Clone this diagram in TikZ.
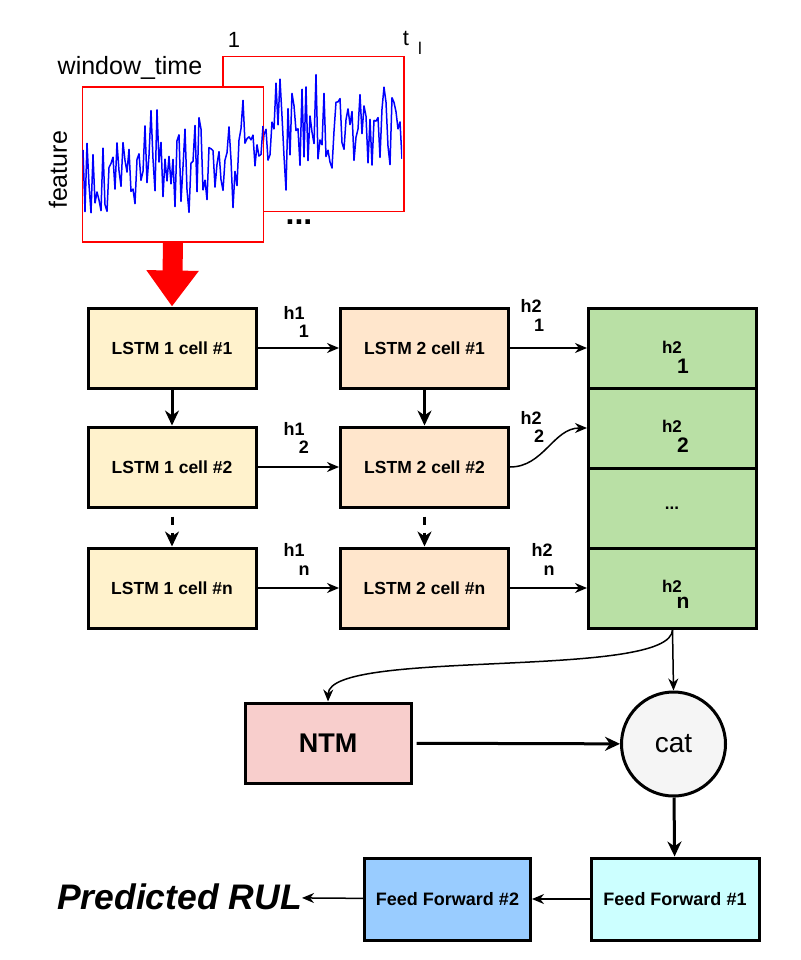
\documentclass[tikz,border=0pt]{standalone}
\usepackage{fontspec}
\setmainfont{Liberation Sans}
\usetikzlibrary{arrows.meta}

\definecolor{lstmA}{HTML}{FFF2CC}
\definecolor{lstmB}{HTML}{FFE6CC}
\definecolor{hidden}{HTML}{B9E0A5}
\definecolor{ntmred}{HTML}{F8CECC}
\definecolor{catgray}{HTML}{F5F5F5}
\definecolor{ffone}{HTML}{CCFFFF}
\definecolor{fftwo}{HTML}{99CCFF}

\begin{document}
\begin{tikzpicture}[x=1pt, y=-1pt,
    >={Stealth[length=12pt, width=10pt]},
    box/.style={draw, line width=3pt, inner sep=0pt, minimum width=168pt, minimum height=80pt},
    cell/.style={box, font=\fontsize{17.5}{20}\selectfont\bfseries},
    win/.style={draw=red, line width=1.5pt, fill=white, minimum width=181pt, minimum height=155pt, inner sep=0pt},
    sig/.style={blue, line width=1.5pt, line join=round},
    lbl/.style={inner sep=0pt, font=\fontsize{18}{20}\selectfont\bfseries},
    glbl/.style={inner sep=0pt, font=\fontsize{17}{20}\selectfont\bfseries},
    gsub/.style={inner sep=0pt, font=\fontsize{21}{22}\selectfont\bfseries},
    txt/.style={inner sep=0pt, font=\fontsize{25}{28}\selectfont},
    thin/.style={->, line width=1.5pt},
    thick/.style={-{Stealth[length=15pt, width=14pt]}, line width=3pt},
    bigarrow/.style={-{Triangle[length=36pt, width=50pt]}, red, line width=20pt}
]
\useasboundingbox (0,0) rectangle (800,960);

\pgfmathsetseed{11}
\node[win] (w2) at (313.5,134) {};
\begin{scope}
    \clip (225,57) rectangle (402,211);
    \draw[sig] (226,130) \foreach \i in {1,...,88} { -- ({226+2*\i},{128+35*rand+50*rand^3}) };
\end{scope}
\node[win] (w1) at (173,164.5) {};
\begin{scope}
    \clip (82,88) rectangle (264,241);
    \draw[sig] (83,150) \foreach \i in {1,...,90} { -- ({83+2*\i},{185-0.35*\i+30*rand+50*rand^3}) };
\end{scope}

\node[txt, anchor=base] (wt) at (130,75) {window\_time};
\node[txt, rotate=90] (ft) at (58,170) {feature};
\node[inner sep=0pt, font=\fontsize{22}{24}\selectfont] (t1) at (234,40) {1};
\node[inner sep=0pt, font=\fontsize{22}{24}\selectfont] (tl) at (406,38) {t};
\node[inner sep=0pt, font=\fontsize{17}{18}\selectfont] (tls) at (420,48) {l};
\node[inner sep=0pt, font=\fontsize{32}{32}\selectfont\bfseries] (dots) at (299,222) {...};

\node[cell, fill=lstmA] (a1) at (172,348) {LSTM 1 cell \#1};
\node[cell, fill=lstmA] (a2) at (172,467) {LSTM 1 cell \#2};
\node[cell, fill=lstmA] (an) at (172,588) {LSTM 1 cell \#n};
\node[cell, fill=lstmB] (b1) at (424.5,348) {LSTM 2 cell \#1};
\node[cell, fill=lstmB] (b2) at (424.5,467) {LSTM 2 cell \#2};
\node[cell, fill=lstmB] (bn) at (424.5,588) {LSTM 2 cell \#n};

\node[box, fill=hidden] (g1) at (672.5,348) {};
\node[box, fill=hidden] (g2) at (672.5,428) {};
\node[box, fill=hidden] (g3) at (672.5,508) {};
\node[box, fill=hidden] (g4) at (672.5,588) {};
\node[glbl] (g1h) at (672,347) {h2};
\node[gsub] (g1s) at (683,366) {1};
\node[glbl] (g2h) at (672,426) {h2};
\node[gsub] (g2s) at (683,445) {2};
\node[glbl] (g3h) at (672,508) {...};
\node[glbl] (g4h) at (672,586) {h2};
\node[gsub] (g4s) at (683,603) {n};

\node[lbl] (h11) at (294,313) {h1};
\node[lbl] (h11s) at (304,331) {1};
\node[lbl] (h12) at (294,429) {h1};
\node[lbl] (h12s) at (304,447) {2};
\node[lbl] (h1n) at (294,550) {h1};
\node[lbl] (h1ns) at (304,571) {n};
\node[lbl] (h21) at (531,306) {h2};
\node[lbl] (h21s) at (539,325) {1};
\node[lbl] (h22) at (531,418) {h2};
\node[lbl] (h22s) at (539,436) {2};
\node[lbl] (h2n) at (542,550) {h2};
\node[lbl] (h2ns) at (549,571) {n};

\node[box, fill=ntmred, minimum width=166pt, font=\fontsize{27}{30}\selectfont\bfseries] (ntm) at (328,743) {NTM};
\node[circle, draw, line width=3pt, fill=catgray, minimum size=104pt, inner sep=0pt, font=\fontsize{28}{30}\selectfont] (cat) at (673.5,744) {cat};
\node[box, fill=ffone, minimum height=82pt, font=\fontsize{18}{20}\selectfont\bfseries] (ff1) at (675,899) {Feed Forward \#1};
\node[box, fill=fftwo, minimum width=166pt, minimum height=82pt, font=\fontsize{18}{20}\selectfont\bfseries] (ff2) at (447.5,899) {Feed Forward \#2};
\node[inner sep=0pt, anchor=east, font=\fontsize{35.5}{38}\selectfont\bfseries\itshape] (rul) at (302,897) {Predicted RUL};

\draw[bigarrow] (w1.south) -- (a1.north);

\draw[thin] (a1) -- (b1);
\draw[thin] (a2) -- (b2);
\draw[thin] (an) -- (bn);
\draw[thin] (b1) -- (g1);
\draw[thin] (b2.east) to[out=0, in=180] (g2.west);
\draw[thin] (bn) -- (g4);
\draw[thick] (a1) -- (a2);
\draw[thick] (b1) -- (b2);
\draw[thick, dash pattern=on 8pt off 8pt, dash phase=8pt] (a2) -- (an);
\draw[thick, dash pattern=on 8pt off 8pt, dash phase=8pt] (b2) -- (bn);

\draw[thin] (g4.south) -- (cat.north);
\draw[thin] (g4.south) .. controls (672.5,680) and (329,648) .. (ntm.north);
\draw[thick, shorten <=4pt] (ntm) -- (cat);
\draw[thick] (cat) -- (ff1);
\draw[thin] (ff1) -- (ff2);
\draw[thin] (ff2) -- (rul);
\end{tikzpicture}
\end{document}
